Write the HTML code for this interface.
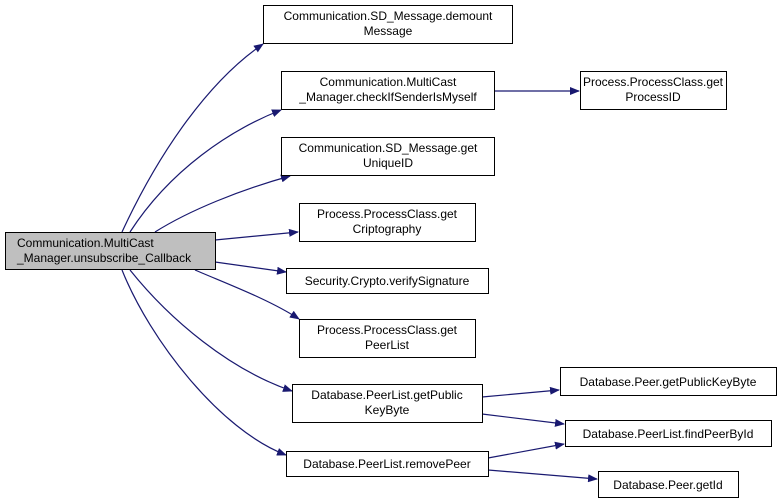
<!DOCTYPE html>
<html><head><meta charset="utf-8"><style>
html,body{margin:0;padding:0;background:#fff;width:781px;height:503px;overflow:hidden}
text{font-family:"Liberation Sans",Arial,sans-serif;font-size:12px;fill:#000}
</style></head><body>
<svg width="781" height="503" viewBox="0 0 781 503" xmlns="http://www.w3.org/2000/svg">
<defs><marker id="a" markerWidth="10" markerHeight="8" refX="9" refY="4" orient="auto" markerUnits="userSpaceOnUse"><path d="M0,0 L10,4 L0,8 z" fill="#191970"/></marker></defs>
<g fill="none" stroke="#191970" stroke-width="1.2" marker-end="url(#a)">
<path d="M122,232 C160,150 210,80 263,44"/>
<path d="M130,232 C170,170 230,130 281,110"/>
<path d="M155,232 C190,210 240,190 290,176"/>
<path d="M215,240 L298,232"/>
<path d="M215,262 L286,272"/>
<path d="M195,270 C230,285 270,300 299,319"/>
<path d="M130,270 C170,320 230,370 292,391"/>
<path d="M122,270 C150,340 220,430 286,455"/>
<path d="M494,91 L579,91"/>
<path d="M482,397 L559,390"/>
<path d="M482,414 L564,424"/>
<path d="M488,458 L564,444"/>
<path d="M488,470 L597,479"/>
</g>
<g stroke="#000" stroke-width="1" fill="#fff">
<rect x="5.5" y="232.5" width="210" height="37" fill="#bfbfbf"/>
<rect x="263.5" y="5.5" width="249" height="38"/>
<rect x="281.5" y="71.5" width="213" height="38"/>
<rect x="281.5" y="137.5" width="213" height="38"/>
<rect x="299.5" y="203.5" width="176" height="38"/>
<rect x="286.5" y="268.5" width="202" height="25"/>
<rect x="299.5" y="319.5" width="176" height="38"/>
<rect x="292.5" y="384.5" width="190" height="38"/>
<rect x="286.5" y="451.5" width="202" height="25"/>
<rect x="580.5" y="71.5" width="146" height="38"/>
<rect x="560.5" y="367.5" width="216" height="28"/>
<rect x="565.5" y="420.5" width="206" height="26"/>
<rect x="598.5" y="471.5" width="140" height="26"/>
</g>
<g>
<text x="17" y="247">Communication.MultiCast</text><text x="17" y="262">_Manager.unsubscribe_Callback</text>
<text x="388" y="20" text-anchor="middle">Communication.SD_Message.demount</text><text x="388" y="35" text-anchor="middle">Message</text>
<text x="388" y="86" text-anchor="middle">Communication.MultiCast</text><text x="388" y="101" text-anchor="middle">_Manager.checkIfSenderIsMyself</text>
<text x="388" y="152" text-anchor="middle">Communication.SD_Message.get</text><text x="388" y="167" text-anchor="middle">UniqueID</text>
<text x="387" y="218" text-anchor="middle">Process.ProcessClass.get</text><text x="387" y="233" text-anchor="middle">Criptography</text>
<text x="387" y="285" text-anchor="middle">Security.Crypto.verifySignature</text>
<text x="387" y="334" text-anchor="middle">Process.ProcessClass.get</text><text x="387" y="349" text-anchor="middle">PeerList</text>
<text x="387" y="399" text-anchor="middle">Database.PeerList.getPublic</text><text x="387" y="414" text-anchor="middle">KeyByte</text>
<text x="387" y="468" text-anchor="middle">Database.PeerList.removePeer</text>
<text x="653" y="86" text-anchor="middle">Process.ProcessClass.get</text><text x="653" y="101" text-anchor="middle">ProcessID</text>
<text x="668" y="386" text-anchor="middle">Database.Peer.getPublicKeyByte</text>
<text x="668" y="438" text-anchor="middle">Database.PeerList.findPeerById</text>
<text x="668" y="489" text-anchor="middle">Database.Peer.getId</text>
</g>
</svg>
</body></html>
